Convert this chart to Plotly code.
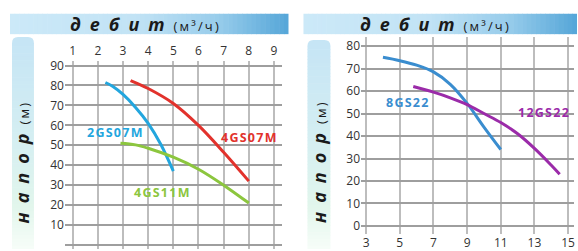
import plotly.graph_objects as go

W, H = 578, 251

# ---- data: left chart (flow m3/h vs head m)
q_2gs07m = [2.3, 2.6, 3.0, 3.5, 4.0, 4.5, 5.0]
h_2gs07m = [81.5, 79.5, 75.5, 69.0, 61.0, 50.5, 37.0]
q_4gs07m = [3.3, 4.0, 5.0, 6.0, 7.0, 8.0]
h_4gs07m = [82.5, 78.5, 71.0, 60.0, 46.5, 32.0]
q_4gs11m = [2.9, 3.5, 4.0, 5.0, 6.0, 7.0, 8.0]
h_4gs11m = [51.0, 50.2, 48.5, 44.0, 38.0, 30.0, 21.0]
# ---- data: right chart
q_8gs22 = [4.0, 5.0, 6.0, 7.0, 8.0, 9.0, 10.0, 11.0]
h_8gs22 = [75.0, 73.5, 71.5, 68.5, 63.0, 54.5, 44.0, 34.0]
q_12gs22 = [5.8, 7.0, 8.0, 9.0, 10.0, 11.0, 12.0, 13.0, 14.0, 14.5]
h_12gs22 = [62.0, 59.5, 57.0, 54.0, 50.0, 46.0, 41.0, 34.5, 27.0, 23.0]

left_xticks = [1, 2, 3, 4, 5, 6, 7, 8, 9]
left_yticks = [0, 10, 20, 30, 40, 50, 60, 70, 80, 90]
right_xticks = [3, 5, 7, 9, 11, 13, 15]
right_yticks = [0, 10, 20, 30, 40, 50, 60, 70, 80]

C_CYAN = "#23a6de"
C_RED = "#e2322c"
C_GREEN = "#8cc63e"
C_BLUE = "#3a8dcf"
C_PURPLE = "#9b2ba9"

FONT = "Open Sans"


def px(x):
    return x / W


def py(y):
    return 1 - y / H


fig = go.Figure()

series = [
    (q_2gs07m, h_2gs07m, C_CYAN, "x", "y"),
    (q_4gs07m, h_4gs07m, C_RED, "x", "y"),
    (q_4gs11m, h_4gs11m, C_GREEN, "x", "y"),
    (q_8gs22, h_8gs22, C_BLUE, "x2", "y2"),
    (q_12gs22, h_12gs22, C_PURPLE, "x2", "y2"),
]
for q, h, c, xa, ya in series:
    fig.add_trace(go.Scatter(x=q, y=h, mode="lines", xaxis=xa, yaxis=ya,
                             line=dict(color=c, width=3, shape="spline", smoothing=1.0),
                             showlegend=False, hoverinfo="skip"))

labels = [
    ("2GS07M", 2.67, 56.3, C_CYAN, "x", "y"),
    ("4GS07M", 7.97, 54.0, C_RED, "x", "y"),
    ("4GS11M", 4.53, 26.4, C_GREEN, "x", "y"),
    ("8GS22", 5.42, 55.0, C_BLUE, "x2", "y2"),
    ("12GS22", 13.56, 50.3, C_PURPLE, "x2", "y2"),
]
hair = "\u200a"
annotations = []
for t, x, y, c, xa, ya in labels:
    annotations.append(dict(text="<b>" + hair.join(t) + "</b>", x=x, y=y, xref=xa, yref=ya,
                            xanchor="center", yanchor="middle",
                            showarrow=False, font=dict(family=FONT, size=12.5, color=c)))


def hex2rgb(h):
    h = h.lstrip("#")
    return tuple(int(h[i:i + 2], 16) for i in (0, 2, 4))


def colour_at(stops, t):
    for (t0, c0), (t1, c1) in zip(stops[:-1], stops[1:]):
        if t <= t1:
            f = 0 if t1 == t0 else (t - t0) / (t1 - t0)
            a, b = hex2rgb(c0), hex2rgb(c1)
            return "rgb(%d,%d,%d)" % tuple(round(a[i] + (b[i] - a[i]) * f) for i in range(3))
    return stops[-1][1]


shapes = []


def grad_rect(x0, x1, y0, y1, stops, horizontal=True, n=60):
    for i in range(n):
        t = (i + 0.5) / n
        c = colour_at(stops, t)
        if horizontal:
            a = x0 + (x1 - x0) * i / n
            b = x0 + (x1 - x0) * (i + 1) / n + 0.6
            shapes.append(dict(type="rect", xref="paper", yref="paper", x0=px(a), x1=px(min(b, x1)),
                               y0=py(y1), y1=py(y0), fillcolor=c, line=dict(width=0), layer="below"))
        else:
            a = y0 + (y1 - y0) * i / n
            b = y0 + (y1 - y0) * (i + 1) / n + 0.6
            shapes.append(dict(type="rect", xref="paper", yref="paper", x0=px(x0), x1=px(x1),
                               y0=py(min(b, y1)), y1=py(a), fillcolor=c, line=dict(width=0), layer="below"))


head_stops = [(0.0, "#cce9f8"), (0.45, "#c2e3f5"), (0.75, "#97cceb"), (1.0, "#55a6d8")]
side_stops = [(0.0, "#c6e5f5"), (0.45, "#d4eef2"), (0.8, "#e2f6ec"), (1.0, "#f7fdf9")]

# headers
grad_rect(10, 289, 9, 30, head_stops, True)
grad_rect(304, 578, 9, 30, head_stops, True)


def side_bar(x0, x1, y0, y1, r=6):
    grad_rect(x0, x1, y0 + r, y1, side_stops, False, n=60)
    c = side_stops[0][1]
    path = "M %f,%f Q %f,%f %f,%f L %f,%f Q %f,%f %f,%f Z" % (
        px(x0), py(y0 + r + 0.5), px(x0), py(y0), px(x0 + r), py(y0),
        px(x1 - r), py(y0), px(x1), py(y0), px(x1), py(y0 + r + 0.5))
    shapes.append(dict(type="path", xref="paper", yref="paper", path=path,
                       fillcolor=c, line=dict(width=0), layer="below"))


side_bar(12, 34, 33, 251)
side_bar(308, 331, 36, 251)

sp = "\u2002"
thin = "\u2009"
head_txt = ("<b><i>" + sp.join("дебит") + "</i></b>" + sp +
            "<span style='font-size:13px'>" + thin.join("(м³/ч)") + "</span>")
side_txt = ("<b><i>" + sp.join("напор") + "</i></b>" + sp +
            "<span style='font-size:13px'>" + thin.join("(м)") + "</span>")

for cx in (145, 435):
    annotations.append(dict(text=head_txt, x=px(cx), y=py(19.5), xref="paper", yref="paper",
                            xanchor="center", yanchor="middle",
                            showarrow=False, font=dict(family=FONT, size=18, color="#1a1a1a")))
for cx in (23, 320):
    annotations.append(dict(text=side_txt, x=px(cx), y=py(162), xref="paper", yref="paper",
                            xanchor="center", yanchor="middle",
                            textangle=-90, showarrow=False,
                            font=dict(family=FONT, size=18, color="#1a1a1a")))

tickfont = dict(family=FONT, size=12, color="#333333")
xgrid = dict(showgrid=True, gridcolor="#bdbdbd", gridwidth=2, zeroline=False, showline=False,
             ticks="", tickfont=tickfont, fixedrange=True)
ygrid = dict(showgrid=True, gridcolor="#9e9e9e", gridwidth=1.5, zeroline=False, showline=False,
             ticks="", tickfont=tickfont, fixedrange=True)

fig.update_layout(
    width=W, height=H, margin=dict(l=0, r=0, t=0, b=0),
    paper_bgcolor="white", plot_bgcolor="rgba(0,0,0,0)",
    showlegend=False,
    xaxis=dict(domain=[px(65), px(282)], range=[0.69, 9.30], tickvals=left_xticks,
               side="top", anchor="y", ticklabelstandoff=3, **xgrid),
    yaxis=dict(domain=[0, py(58)], range=[-2.05, 92.1], tickvals=left_yticks,
               anchor="x", **ygrid),
    xaxis2=dict(domain=[px(361.7), px(575)], range=[2.70, 15.35], tickvals=right_xticks,
                side="bottom", anchor="y2", **xgrid),
    yaxis2=dict(domain=[py(235.7), py(33)], range=[-3.63, 84.0], tickvals=right_yticks,
                anchor="x2", **ygrid),
    shapes=shapes,
    annotations=annotations,
)

fig.write_html("out.html", config={"displayModeBar": False},
               post_script="document.body.style.margin='0';document.body.style.padding='0';")
